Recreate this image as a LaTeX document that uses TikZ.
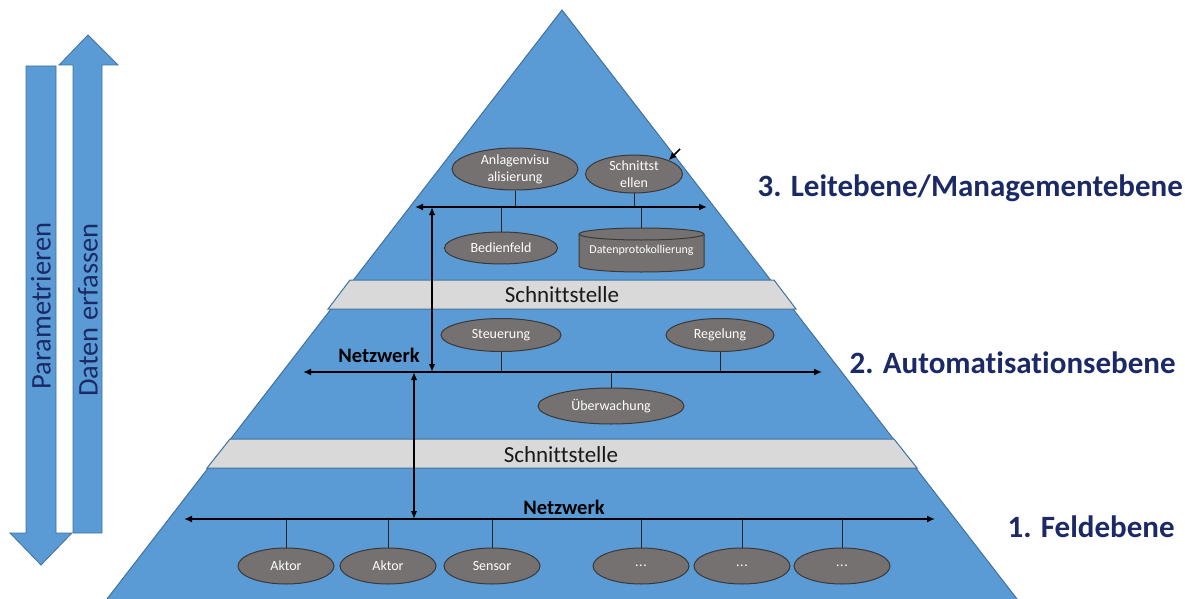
\documentclass[tikz,border=0pt]{standalone}
\usepackage{fontspec}
\setmainfont{Carlito}[Ligatures=NoCommon]
\usetikzlibrary{shapes.geometric,arrows.meta}
\definecolor{pyr}{HTML}{5B9BD5}
\definecolor{pyrline}{HTML}{41719C}
\definecolor{bandgray}{HTML}{D9D9D9}
\definecolor{ellfill}{HTML}{767171}
\definecolor{ellline}{HTML}{3B3838}
\definecolor{navy}{HTML}{1B2A66}
\newcommand{\mydots}{.\kern0.5pt.\kern0.5pt.}
\begin{document}
\begin{tikzpicture}[x=1pt,y=-1pt,
  ell/.style={ellipse, fill=ellfill, draw=ellline, line width=1pt, text=white,
    inner sep=0pt, font=\fontsize{14}{17}\selectfont, align=center},
  net/.style={line width=1.9pt, {Latex[length=8pt,width=7pt]}-{Latex[length=8pt,width=7pt]}},
  vnet/.style={line width=1.5pt, {Latex[length=8pt,width=6.5pt]}-{Latex[length=8pt,width=6.5pt]}},
  stem/.style={line width=0.9pt, draw=black!85},
  bandbox/.style={fill=bandgray, draw=pyrline, line width=1pt},
  bandtxt/.style={font=\fontsize{23}{27}\selectfont, text=black!90},
  nettxt/.style={font=\bfseries\fontsize{20.5}{24}\selectfont, text=black},
  title/.style={font=\bfseries\fontsize{31}{35}\selectfont, text=navy, anchor=west},
  bigarrow/.style={fill=pyr, draw=pyrline, line width=0.8pt},
  arrtxt/.style={rotate=90, font=\fontsize{28.5}{32}\selectfont, text=navy}
]
\useasboundingbox (0,0) rectangle (1185,599);

% left arrows
\draw[bigarrow] (26,66) -- (56,66) -- (56,533) -- (72,533) -- (41,565) -- (10,533) -- (26,533) -- cycle;
\draw[bigarrow] (73,533) -- (73,65) -- (59,65) -- (88,35) -- (118,65) -- (102,65) -- (102,533) -- cycle;
\node[arrtxt] (par) at (41,306) {Parametrieren};
\node[arrtxt] (dat) at (88,310) {Daten erfassen};

% pyramid
\fill[pyr] (562,10) -- (1017,599) -- (107,599) -- cycle;
\draw[pyrline, line width=1pt] (107,599) -- (562,10) -- (1017,599);

% bands
\draw[bandbox] (350,280) -- (774,280) -- (796,309) -- (328,309) -- cycle;
\draw[bandbox] (230,439) -- (894,439) -- (917,468) -- (207,468) -- cycle;
\node[bandtxt] (s1) at (562,295) {Schnittstelle};
\node[bandtxt] (s2) at (561,455) {Schnittstelle};

% titles
\node[title] (t3) at (754,188) {3. Leitebene/Managementebene};
\node[title] (t2) at (846,363) {2. Automatisationsebene};
\node[title] (t1) at (1004,527) {1. Feldebene};

% ---- level 3
\coordinate (n3l) at (415,207);
\coordinate (n3r) at (707,207);
\draw[net] (n3l) -- (n3r);
\node[ell, minimum width=126pt, minimum height=42pt] (anl) at (515,169) {Anlagenvisu\\alisierung};
\node[ell, minimum width=97pt, minimum height=34pt] (schn) at (634,174) {Schnittst\\ellen};
\node[ell, minimum width=113pt, minimum height=32pt] (bed) at (501,248) {Bedienfeld};
\draw[fill=ellfill, draw=ellline, line width=1pt] (579,234) -- (579,266)
   arc[start angle=180, end angle=0, x radius=62.5, y radius=6] -- (704,234)
   arc[start angle=0, end angle=-180, x radius=62.5, y radius=6] -- cycle;
\draw[ellline, line width=1pt] (579,234) arc[start angle=180, end angle=0, x radius=62.5, y radius=6];
\node[minimum width=125pt, minimum height=44pt, inner sep=0pt, text=white,
      font=\fontsize{12}{14}\selectfont] (cyl) at (641.5,250) {\raisebox{-5pt}{Datenprotokollierung}};
\draw[stem] (anl.south) -- (anl.south |- n3l);
\draw[stem] (schn.south) -- (schn.south |- n3l);
\draw[stem] (bed.north) -- (bed.north |- n3l);
\draw[stem] (cyl.north) -- (cyl.north |- n3l);
\coordinate (sa) at (680,149);
\draw[line width=1.7pt, -{Latex[length=8pt,width=7pt]}] (sa) -- (schn.north east);

% ---- level 2
\coordinate (n2l) at (303,372);
\coordinate (n2r) at (822,372);
\draw[net] (n2l) -- (n2r);
\node[nettxt] (net2) at (379,355) {Netzwerk};
\node[ell, minimum width=120pt, minimum height=33pt] (steu) at (501,335) {Steuerung};
\node[ell, minimum width=108pt, minimum height=33pt] (reg) at (720,335) {Regelung};
\node[ell, minimum width=146pt, minimum height=36pt] (ueb) at (611,406) {Überwachung};
\draw[stem] (steu.south) -- (steu.south |- n2l);
\draw[stem] (reg.south) -- (reg.south |- n2l);
\draw[stem] (ueb.north) -- (ueb.north |- n2l);
\coordinate (v1t) at (432,207);
\coordinate (v1b) at (432,372);
\draw[vnet] (v1t) -- (v1b);

% ---- level 1
\coordinate (n1l) at (184,519);
\coordinate (n1r) at (935,519);
\draw[net] (n1l) -- (n1r);
\node[nettxt] (net1) at (564,507) {Netzwerk};
\coordinate (v2t) at (414,372);
\coordinate (v2b) at (414,519);
\draw[vnet] (v2t) -- (v2b);
\foreach \nm/\xx/\tx in {a1/286/Aktor, a2/388/Aktor, se/492/Sensor, d1/641/\mydots, d2/742/\mydots, d3/842/\mydots}{
  \node[ell, minimum width=96pt, minimum height=36pt] (\nm) at (\xx,566) {\tx};
  \draw[stem] (\nm.north) -- (\nm.north |- n1l);
}
\end{tikzpicture}
\end{document}
